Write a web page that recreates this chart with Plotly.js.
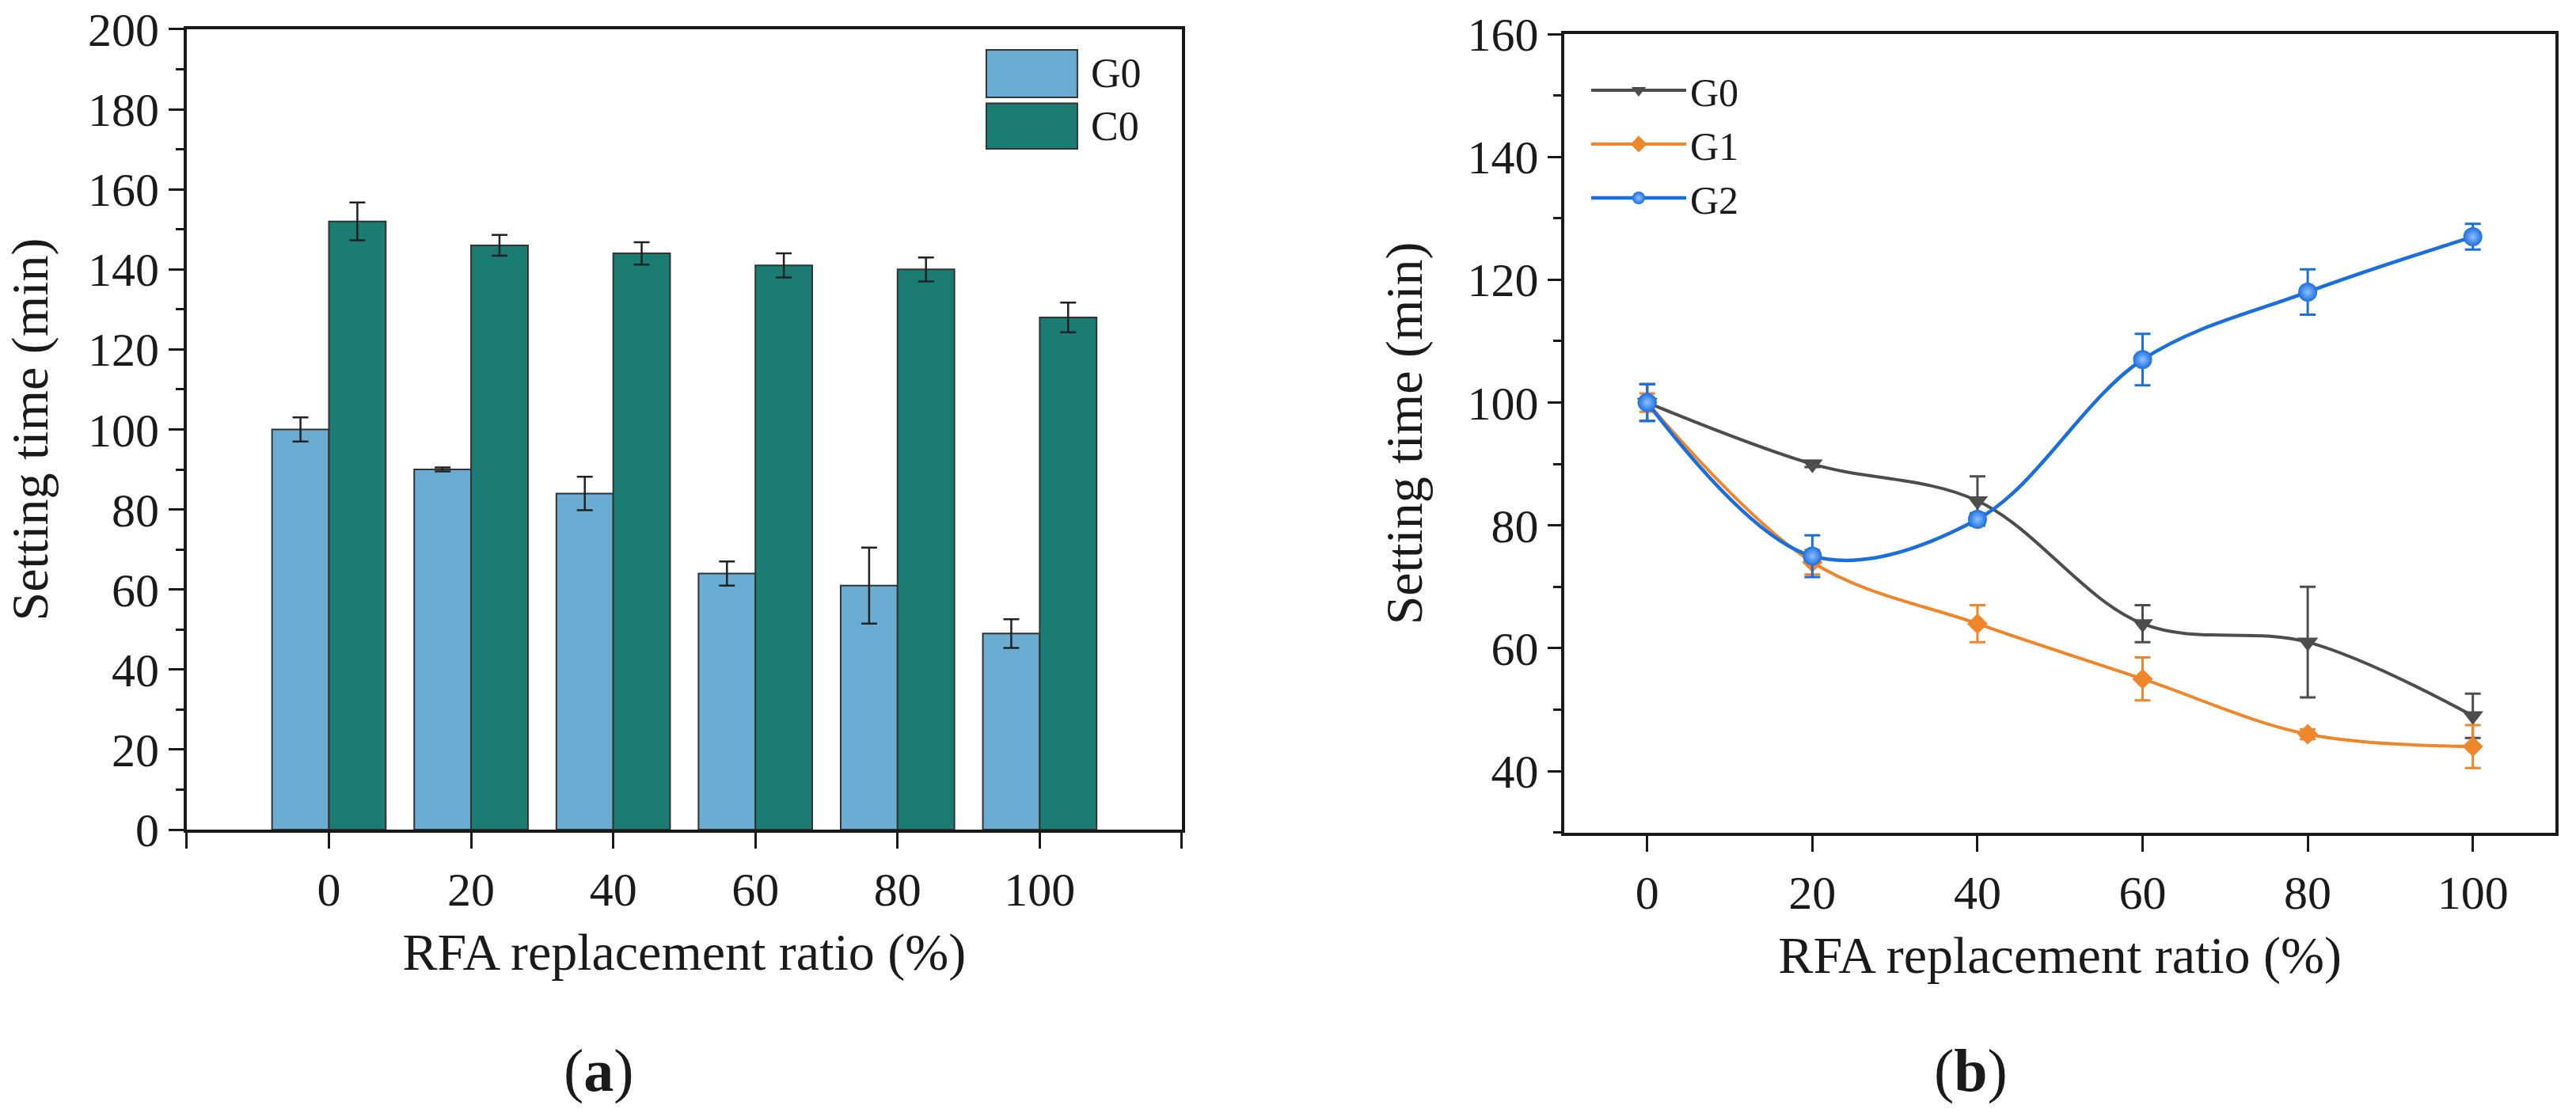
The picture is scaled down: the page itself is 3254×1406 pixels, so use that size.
<!DOCTYPE html>
<html>
<head>
<meta charset="utf-8">
<script src="https://cdn.plot.ly/plotly-3.0.1.min.js"></script>
<style>
  html, body { margin: 0; padding: 0; background: #fff; }
  #chart { width: 3254px; height: 1406px; }
</style>
</head>
<body>
<div id="chart"></div>
<script>
// RFA replacement ratio (%)
var ratio = [0, 20, 40, 60, 80, 100];

// (a) bar chart
var barG0 = [100, 90, 84, 64, 61, 49];
var barG0Err = [3, 0.5, 4.2, 3, 9.5, 3.6];
var barC0 = [152, 146, 144, 141, 140, 128];
var barC0Err = [4.7, 2.6, 2.8, 3, 3, 3.7];

// (b) line chart
var lineG0 = [100, 90, 84, 64, 61, 49];
var lineG0Err = [3, 0.5, 4, 3, 9, 3.6];
var lineG1 = [100, 74, 64, 55, 46, 44];
var lineG1Err = [1.5, 2, 3, 3.5, 0.8, 3.5];
var lineG2 = [100, 75, 81, 107, 118, 127];
var lineG2Err = [3, 3.4, 1, 4.2, 3.7, 2.1];

var xTickVals = [-20, 0, 20, 40, 60, 80, 100, 120];
var xTickText = ['', '0', '20', '40', '60', '80', '100', ''];

var serif = "'Liberation Serif', 'Times New Roman', serif";
var ink = '#1a1a1a';
var colG0bar = '#6BACD3', colC0bar = '#1B7C74';
var colG0 = '#4d4d4d', colG1 = '#F0862A', colG2 = '#1A6FE0';

var traces = [
  {
    x: ratio, y: barG0, type: 'bar', name: 'G0', xaxis: 'x', yaxis: 'y', showlegend: false,
    marker: { color: colG0bar, line: { color: '#333', width: 2 } },
    error_y: { type: 'data', array: barG0Err, color: '#222', thickness: 2.5, width: 10 }
  },
  {
    x: ratio, y: barC0, type: 'bar', name: 'C0', xaxis: 'x', yaxis: 'y', showlegend: false,
    marker: { color: colC0bar, line: { color: '#333', width: 2 } },
    error_y: { type: 'data', array: barC0Err, color: '#222', thickness: 2.5, width: 10 }
  },
  {
    x: ratio, y: lineG0, type: 'scatter', mode: 'lines+markers', name: 'G0',
    xaxis: 'x2', yaxis: 'y2', legend: 'legend2',
    line: { color: colG0, width: 4, shape: 'spline' },
    marker: { symbol: 'triangle-down', size: 23, color: colG0 },
    error_y: { type: 'data', array: lineG0Err, color: colG0, thickness: 3, width: 10 }
  },
  {
    x: ratio, y: lineG1, type: 'scatter', mode: 'lines+markers', name: 'G1',
    xaxis: 'x2', yaxis: 'y2', legend: 'legend2',
    line: { color: colG1, width: 4, shape: 'spline' },
    marker: { symbol: 'diamond', size: 20, color: colG1 },
    error_y: { type: 'data', array: lineG1Err, color: colG1, thickness: 3, width: 10 }
  },
  {
    x: ratio, y: lineG2, type: 'scatter', mode: 'lines+markers', name: 'G2',
    xaxis: 'x2', yaxis: 'y2', legend: 'legend2',
    line: { color: colG2, width: 4.5, shape: 'spline' },
    marker: { symbol: 'circle', size: 24, color: colG2, gradient: { type: 'radial', color: '#8fc0ff' } },
    error_y: { type: 'data', array: lineG2Err, color: colG2, thickness: 3, width: 10 }
  }
];

var axisCommon = {
  showline: true, mirror: true, linecolor: ink, linewidth: 4,
  ticks: 'outside', tickcolor: ink, tickwidth: 3,
  showgrid: false, zeroline: false,
  tickfont: { family: serif, size: 60, color: ink }
};

function axis(extra) {
  return Object.assign({}, axisCommon, extra);
}

var titleFont = { family: serif, size: 66, color: ink };

var layout = {
  width: 3254, height: 1406,
  margin: { l: 0, r: 0, t: 0, b: 0 },
  paper_bgcolor: '#fff', plot_bgcolor: '#fff',
  font: { family: serif, color: ink },
  barmode: 'group', bargap: 0.2, bargroupgap: 0,
  xaxis: axis({
    domain: [0.0725, 0.4588], anchor: 'y',
    range: [-20, 120], tickvals: xTickVals, ticktext: xTickText, ticklen: 20,
    title: { text: 'RFA replacement ratio (%)', font: titleFont, standoff: 24 }
  }),
  yaxis: axis({
    domain: [0.2546, 0.9737], anchor: 'x',
    range: [0, 200], tick0: 0, dtick: 20, ticklen: 19,
    minor: { ticks: 'outside', dtick: 10, ticklen: 10, tickwidth: 3, tickcolor: ink },
    title: { text: 'Setting time (min)', font: titleFont, standoff: 30 }
  }),
  xaxis2: axis({
    domain: [0.6074, 0.9920], anchor: 'y2',
    range: [-10, 110], tick0: 0, dtick: 20, ticklen: 20,
    title: { text: 'RFA replacement ratio (%)', font: titleFont, standoff: 24 }
  }),
  yaxis2: axis({
    domain: [0.2520, 0.9694], anchor: 'x2',
    range: [30, 160], tick0: 0, dtick: 20, ticklen: 17,
    minor: { ticks: 'outside', dtick: 10, ticklen: 10, tickwidth: 3, tickcolor: ink },
    title: { text: 'Setting time (min)', font: titleFont, standoff: 36 }
  }),
  legend2: {
    x: 2005 / 3254, y: 1 - 75 / 1406, xanchor: 'left', yanchor: 'top',
    bgcolor: 'rgba(0,0,0,0)', itemwidth: 120,
    font: { family: serif, size: 50, color: ink }
  },
  shapes: [
    { type: 'rect', xref: 'x domain', yref: 'y domain', x0: 0.8035, x1: 0.895, y0: 0.9149, y1: 0.9743,
      fillcolor: colG0bar, line: { color: '#333', width: 2 } },
    { type: 'rect', xref: 'x domain', yref: 'y domain', x0: 0.8035, x1: 0.895, y0: 0.8506, y1: 0.9075,
      fillcolor: colC0bar, line: { color: '#333', width: 2 } }
  ],
  annotations: [
    { xref: 'x domain', yref: 'y domain', x: 0.907, y: 0.9446, xanchor: 'left', yanchor: 'middle',
      text: 'G0', showarrow: false, font: { family: serif, size: 52, color: ink } },
    { xref: 'x domain', yref: 'y domain', x: 0.907, y: 0.8793, xanchor: 'left', yanchor: 'middle',
      text: 'C0', showarrow: false, font: { family: serif, size: 52, color: ink } },
    { xref: 'paper', yref: 'paper', x: 756 / 3254, y: 1 - 1352 / 1406, xanchor: 'center', yanchor: 'middle',
      text: '(<b>a</b>)', showarrow: false, font: { family: serif, size: 76, color: ink } },
    { xref: 'paper', yref: 'paper', x: 2489 / 3254, y: 1 - 1352 / 1406, xanchor: 'center', yanchor: 'middle',
      text: '(<b>b</b>)', showarrow: false, font: { family: serif, size: 76, color: ink } }
  ]
};

Plotly.newPlot('chart', traces, layout, { staticPlot: true });
</script>
</body>
</html>
